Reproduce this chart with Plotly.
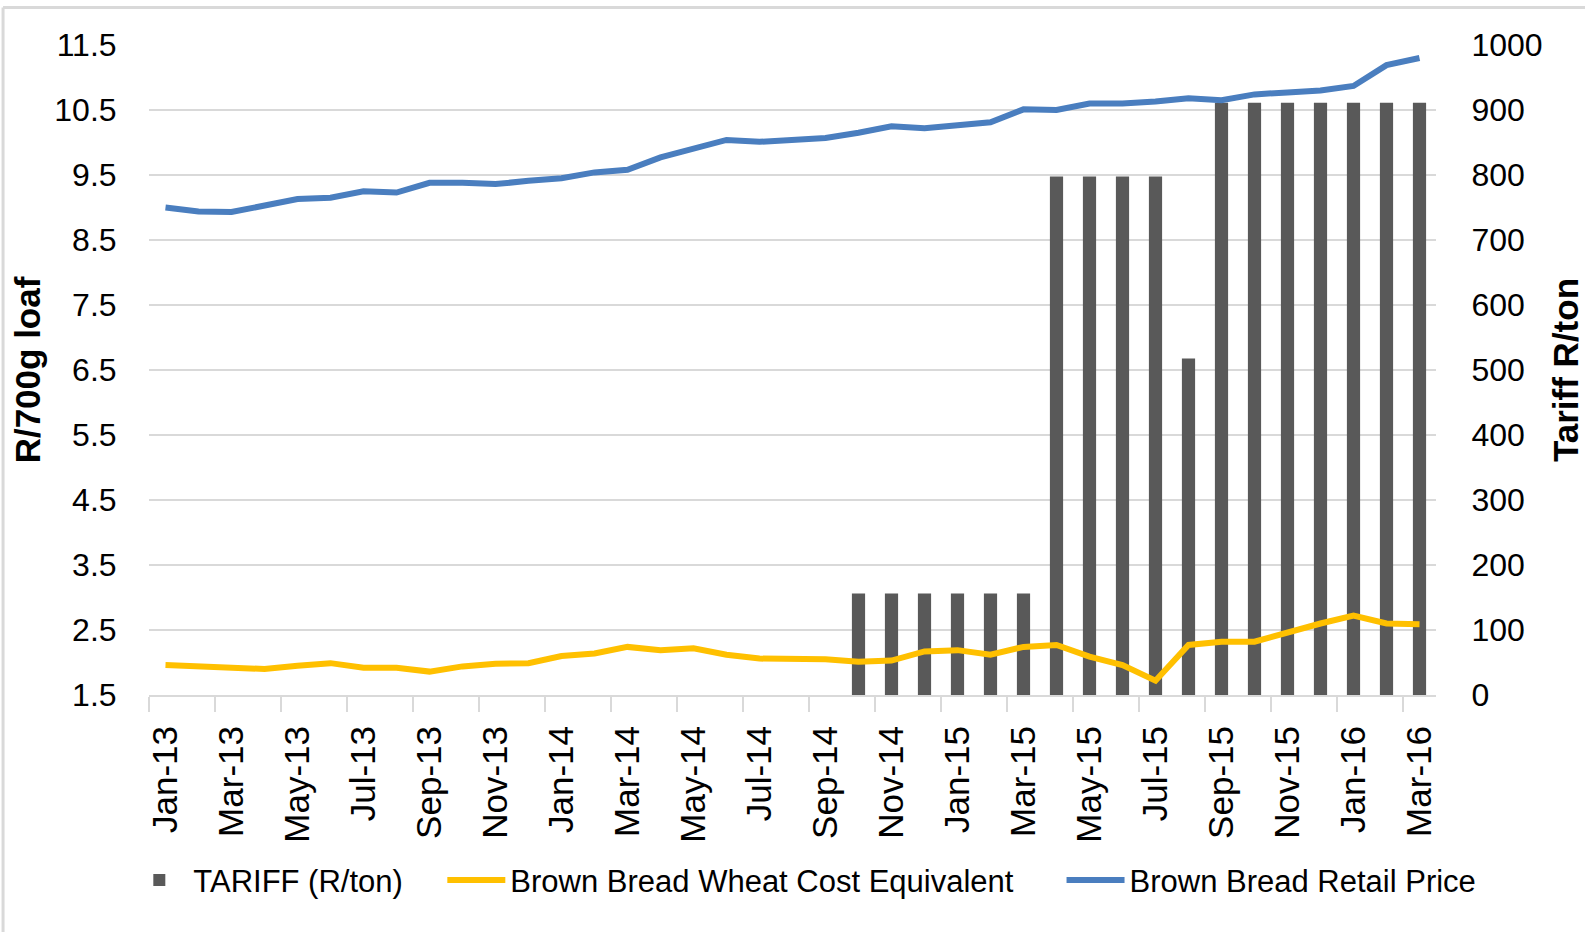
import plotly.graph_objects as go

months = ["Jan-13","Feb-13","Mar-13","Apr-13","May-13","Jun-13","Jul-13","Aug-13","Sep-13","Oct-13","Nov-13","Dec-13",
          "Jan-14","Feb-14","Mar-14","Apr-14","May-14","Jun-14","Jul-14","Aug-14","Sep-14","Oct-14","Nov-14","Dec-14",
          "Jan-15","Feb-15","Mar-15","Apr-15","May-15","Jun-15","Jul-15","Aug-15","Sep-15","Oct-15","Nov-15","Dec-15",
          "Jan-16","Feb-16","Mar-16"]

tariff = [0]*21 + [156, 156, 156, 156, 156, 156, 797.6, 797.6, 797.6, 797.6, 517.7,
                   911.3, 911.3, 911.3, 911.3, 911.3, 911.3, 911.3]

wheat_cost = [1.96, 1.94, 1.92, 1.90, 1.95, 1.99, 1.92, 1.92, 1.86, 1.94, 1.98, 1.99,
              2.10, 2.14, 2.24, 2.19, 2.22, 2.12, 2.06, 2.06, 2.05, 2.01, 2.03, 2.17,
              2.19, 2.12, 2.24, 2.27, 2.09, 1.96, 1.72, 2.27, 2.32, 2.32, 2.47, 2.60,
              2.72, 2.60, 2.59]

retail_price = [9.00, 8.94, 8.93, 9.03, 9.13, 9.15, 9.25, 9.23, 9.38, 9.38, 9.36, 9.41,
                9.45, 9.54, 9.58, 9.77, 9.90, 10.04, 10.01, 10.03, 10.07, 10.15, 10.25, 10.22,
                10.27, 10.31, 10.51, 10.50, 10.60, 10.60, 10.63, 10.68, 10.65, 10.74, 10.77, 10.80,
                10.87, 11.19, 11.30]

series_names = ["TARIFF (R/ton)", "Brown Bread Wheat Cost Equivalent", "Brown Bread Retail Price"]

FONT = "Liberation Sans, Arial, sans-serif"
GRID = "#d9d9d9"
NB = "\u00a0"

fig = go.Figure()
fig.add_trace(go.Bar(x=months, y=tariff, name=series_names[0] + NB * 4, marker_color="#595959",
                     marker_line_width=0, yaxis="y"))
fig.add_trace(go.Scatter(x=months, y=wheat_cost, name=series_names[1] + NB * 5,
                         mode="lines", line=dict(color="#FFC000", width=6), yaxis="y2"))
fig.add_trace(go.Scatter(x=months, y=retail_price, name=series_names[2],
                         mode="lines", line=dict(color="#4A7EBF", width=6), yaxis="y2"))

fig.update_layout(
    template="none",
    width=1585, height=932,
    margin=dict(l=149, r=149, t=45, b=237, autoexpand=False),
    paper_bgcolor="white", plot_bgcolor="white",
    bargap=0.6,
    font=dict(family=FONT, size=31, color="black"),
    xaxis=dict(type="category", tickangle=-90, dtick=2, tickson="boundaries",
               ticks="outside", ticklen=15, tickcolor=GRID, tickwidth=1.5,
               showgrid=False, showline=True, linecolor=GRID, linewidth=2, zeroline=False,
               automargin=False,
               tickfont=dict(family=FONT, size=35), ticklabelstandoff=15),
    yaxis=dict(side="right", range=[0, 1000], dtick=100, showgrid=True, gridcolor=GRID,
               gridwidth=1.5, zeroline=False, showline=False, ticks="outside", ticklen=28,
               tickcolor="rgba(0,0,0,0)", automargin=False,
               tickfont=dict(family=FONT, size=32),
               title=dict(text="<b>Tariff R/ton</b>", font=dict(family=FONT, size=35), standoff=22)),
    yaxis2=dict(side="left", overlaying="y", range=[1.5, 11.5], tick0=1.5, dtick=1,
                showgrid=False, zeroline=False, showline=False, ticks="outside", ticklen=25,
                tickcolor="rgba(0,0,0,0)", automargin=False,
                tickformat=".1f",
                tickfont=dict(family=FONT, size=32),
                title=dict(text="<b>R/700g loaf</b>", font=dict(family=FONT, size=35), standoff=3)),
    showlegend=True,
    legend=dict(orientation="h", x=-0.0184, xanchor="left", y=-0.285, yanchor="middle",
                bgcolor="rgba(0,0,0,0)",
                font=dict(family=FONT, size=31), itemwidth=58, traceorder="normal"),
    shapes=[
        dict(type="line", xref="paper", yref="paper", x0=-0.1134, x1=1.2, y0=1.0577, y1=1.0577,
             line=dict(color=GRID, width=3)),
        dict(type="line", xref="paper", yref="paper", x0=-0.1134, x1=-0.1134, y0=-0.5, y1=1.0577,
             line=dict(color=GRID, width=3)),
    ],
)

fig.write_html("out.html", config={"displayModeBar": False},
               post_script="document.body.style.margin='0';")
